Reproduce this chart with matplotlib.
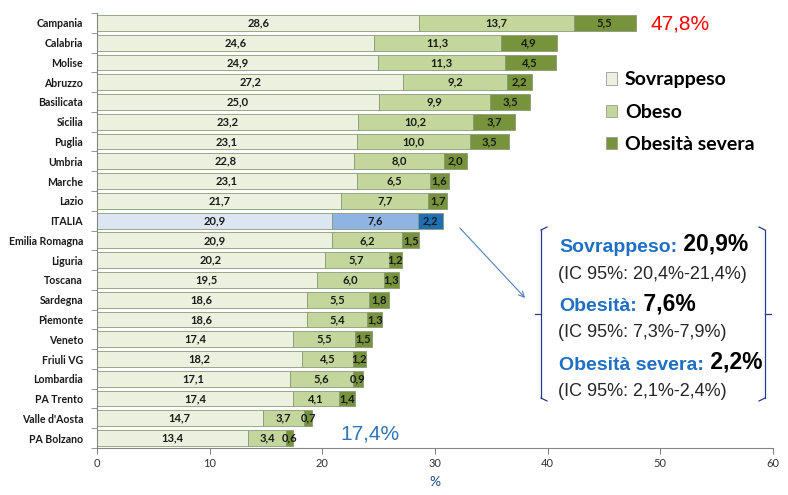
import numpy as np
import matplotlib.pyplot as plt
from matplotlib.patches import Patch

# regions, top to bottom
regions = ["Campania", "Calabria", "Molise", "Abruzzo", "Basilicata", "Sicilia", "Puglia",
           "Umbria", "Marche", "Lazio", "ITALIA", "Emilia Romagna", "Liguria", "Toscana",
           "Sardegna", "Piemonte", "Veneto", "Friuli VG", "Lombardia", "PA Trento",
           "Valle d'Aosta", "PA Bolzano"]
sovrappeso = [28.6, 24.6, 24.9, 27.2, 25.0, 23.2, 23.1, 22.8, 23.1, 21.7, 20.9, 20.9, 20.2,
              19.5, 18.6, 18.6, 17.4, 18.2, 17.1, 17.4, 14.7, 13.4]
obeso = [13.7, 11.3, 11.3, 9.2, 9.9, 10.2, 10.0, 8.0, 6.5, 7.7, 7.6, 6.2, 5.7, 6.0, 5.5,
         5.4, 5.5, 4.5, 5.6, 4.1, 3.7, 3.4]
severa = [5.5, 4.9, 4.5, 2.2, 3.5, 3.7, 3.5, 2.0, 1.6, 1.7, 2.2, 1.5, 1.2, 1.3, 1.8, 1.3,
          1.5, 1.2, 0.9, 1.4, 0.7, 0.6]

green = ["#EBF1DE", "#C3D69B", "#77933C"]
blue = ["#DCE6F2", "#8EB4E3", "#1F6FB5"]

plt.rcParams['font.family'] = ['Lato', 'DejaVu Sans']

fig = plt.figure(figsize=(7.88, 4.95), dpi=100)
ax = fig.add_axes([97/788, 1-448/495, (773-97)/788, (448-13)/495])

y = np.arange(len(regions))
left = np.zeros(len(regions))
for k, vals in enumerate([sovrappeso, obeso, severa]):
    cols = [blue[k] if r == "ITALIA" else green[k] for r in regions]
    ax.barh(y, vals, left=left, height=0.8, color=cols, edgecolor="#8a9a78", linewidth=0.6)
    for i, v in enumerate(vals):
        ax.text(left[i] + v/2, y[i], f"{v:.1f}".replace(".", ","), ha="center", va="center",
                fontsize=8, fontweight="bold", color="#1a1a1a")
    left = left + np.array(vals)

ax.set_xlim(0, 60)
ax.set_ylim(len(regions) - 0.5, -0.5)
ax.set_xticks([0, 10, 20, 30, 40, 50, 60])
ax.tick_params(axis="x", labelsize=8, colors="#868686", labelcolor="#333333", length=4)
ax.set_yticks(y)
ax.set_yticklabels(regions, fontsize=7.6, fontweight="bold", color="#1a1a1a")
ax.tick_params(axis="y", length=0, pad=10)
ax.set_yticks(np.arange(-0.5, len(regions), 1), minor=True)
ax.tick_params(axis="y", which="minor", length=4, colors="#868686")
for s in ["top", "right"]:
    ax.spines[s].set_visible(False)
for s in ["left", "bottom"]:
    ax.spines[s].set_color("#868686")
ax.set_xlabel("%", fontsize=10, color="#1F497D", labelpad=5)

# legend
handles = [Patch(facecolor=c, edgecolor="#9a9a9a", linewidth=0.6) for c in green]
ax.legend(handles, ["Sovrappeso", "Obeso", "Obesità severa"], loc="upper left",
          bbox_to_anchor=(588/788, 1-54/495), bbox_transform=fig.transFigure, frameon=False,
          prop={"size": 14, "weight": "bold"}, handlelength=0.6, handleheight=0.6,
          handletextpad=0.4, labelspacing=0.78)

# totals
fig.text(680/788, 1-24/495, "47,8%", color="#FF0000", fontsize=15, ha="center", va="center",
         family=["Liberation Sans"])
fig.text(370/788, 1-434/495, "17,4%", color="#2E75B6", fontsize=15, ha="center", va="center",
         family=["Liberation Sans"])

# callout bracket
bc = "#2A3A8C"
def fx(px):
    return px / 788
def fy(py):
    return 1 - py / 495
for x0, d in [(541, 1), (765, -1)]:
    fig.add_artist(plt.Line2D([fx(x0), fx(x0)], [fy(230), fy(398)], color=bc, lw=0.9))
    fig.add_artist(plt.Line2D([fx(x0), fx(x0 + 6*d)], [fy(230), fy(227)], color=bc, lw=0.9))
    fig.add_artist(plt.Line2D([fx(x0), fx(x0 + 6*d)], [fy(398), fy(401)], color=bc, lw=0.9))
    fig.add_artist(plt.Line2D([fx(x0), fx(x0 - 6*d)], [fy(314), fy(314)], color=bc, lw=0.9))

ax.annotate("", xy=(fx(527), fy(300)), xytext=(fx(458), fy(226)), xycoords="figure fraction",
            textcoords="figure fraction",
            arrowprops=dict(arrowstyle="->", color="#4F81BD", lw=0.8))

rows = [("Sovrappeso:", "20,9%", "(IC 95%: 20,4%-21,4%)", 252, 279),
        ("Obesità:", "7,6%", "(IC 95%: 7,3%-7,9%)", 311, 337),
        ("Obesità severa:", "2,2%", "(IC 95%: 2,1%-2,4%)", 370, 396)]
for lab, val, ic, ya, yb in rows:
    t1 = fig.text(fx(559), fy(ya), lab, color="#1F6FC5", fontsize=14, fontweight="bold",
                  va="baseline", family=["Liberation Sans"])
    ax.annotate(" " + val, xy=(1, 0), xycoords=t1, va="bottom", ha="left", fontsize=16.5,
                fontweight="bold", color="black", family=["Liberation Sans"])
    fig.text(fx(558), fy(yb), ic, color="#262626", fontsize=13, va="baseline",
             family=["Liberation Sans"])

fig.savefig("out.png", dpi=100)
